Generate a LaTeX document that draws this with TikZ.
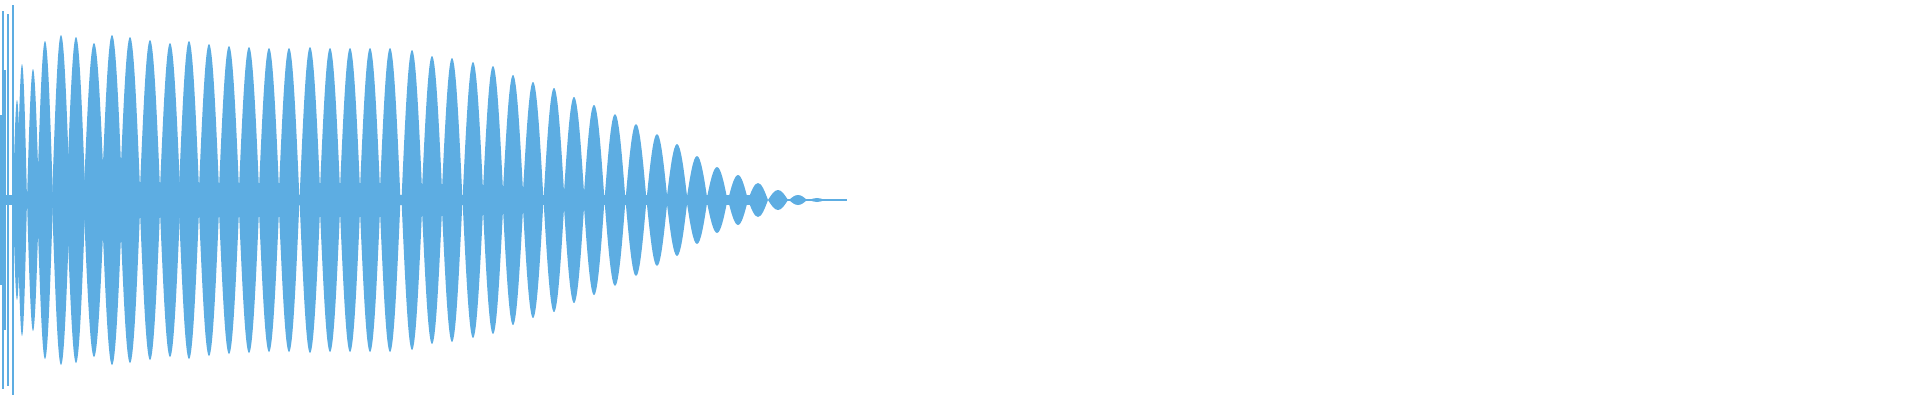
\documentclass[tikz,border=0pt]{standalone}
\usepackage{tikz}
\definecolor{wave}{RGB}{93,173,226}
\tikzset{lobe/.style={fill=wave,draw=none}}
\begin{document}
\begin{tikzpicture}[x=0.01cm,y=-0.01cm]
  \useasboundingbox (0,0) rectangle (1920,400);

  % centre band
  \fill[wave] (0,195) rectangle (760,205);

  % spikes at the start
  \foreach \x/\a in {1/85,3/189,5/130,8/186,13/195}
    \fill[wave] (\x-0.8,200-\a) rectangle (\x+0.8,200+\a);

  % lobes: centre / half width / amplitude
  \foreach \x/\w/\a in {17/4/100,22/5/136,33/6/131,45/8/159,
      61/9/165,76/9.5/163,94/10.5/157,112/10.5/165,130/10.5/163,150/10.5/160,
      170/10.5/157,189/10.5/159,209/10.5/156,229/10.5/154,249/10.5/153,269/10.5/152,
      289/10.5/152,310/10.5/153,330/10.5/152,350/10.5/152,370/10.5/152,390/10.5/152,
      412/10.5/150,432/10.5/144,452/10.5/142,473/10.5/138,493/10.5/134,513/10.5/125,
      533/10.5/118,554/10.5/112,574/10.5/103,594/10.5/95,615/10.5/86,636/10.5/76,
      657/10.5/66,677/10.5/56,697/10.5/44,717/10.5/33,738/10/25,758/10/17,
      778/10/10,798/9/5,817/8/2}
    \fill[lobe] (\x-\w,200) sin (\x,200-\a) cos (\x+\w,200)
                sin (\x,200+\a) cos (\x-\w,200) -- cycle;

  \fill[wave] (770,199.3) rectangle (847,200.7);
\end{tikzpicture}
\end{document}
